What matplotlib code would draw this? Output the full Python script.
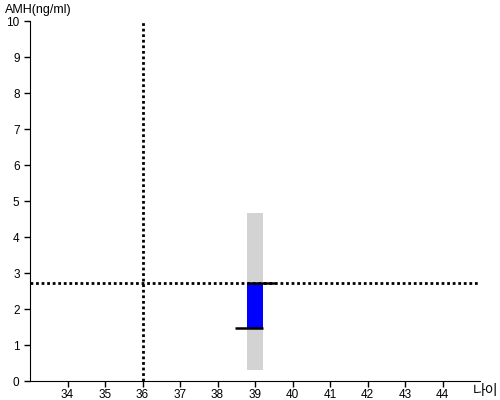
import matplotlib
matplotlib.use("Agg")
import matplotlib.pyplot as plt

plt.rcParams['font.family'] = ['Liberation Sans', 'Noto Sans CJK KR', 'DejaVu Sans']

# data
age = 39
ref_age = 36
ref_amh = 2.72
range_low, range_high = 0.3, 4.68
measured_amh = 1.47
x_ticks = list(range(34, 45))
y_ticks = list(range(0, 11))

fig = plt.figure(figsize=(5, 4), dpi=100)
ax = fig.add_axes([0.06, 0.0475, 0.9, 0.9])

ax.set_xlim(33, 45)
ax.set_ylim(0, 10)

# normal range
ax.bar(age, range_high - range_low, bottom=range_low, width=0.43,
       color='#d3d3d3', zorder=1)
# gap between measured and reference
ax.bar(age, ref_amh - measured_amh, bottom=measured_amh, width=0.43,
       color='#0000ff', zorder=2)
ax.hlines(ref_amh, age - 0.215, age + 0.53, color='black', lw=1.8, zorder=3)
ax.hlines(measured_amh, age - 0.53, age + 0.215, color='black', lw=1.8, zorder=3)

ax.axvline(ref_age, color='black', ls=(0, (1, 1)), lw=2, zorder=2)
ax.axhline(ref_amh, color='black', ls=(0, (1, 1)), lw=2, zorder=2)

ax.set_xticks(x_ticks)
ax.set_yticks(y_ticks)
ax.tick_params(labelsize=8.5, length=4, width=1)
ax.tick_params(axis='x', pad=1.5)
for s in ['top', 'right']:
    ax.spines[s].set_visible(False)

fig.text(0.01, 0.975, 'AMH(ng/ml)', fontsize=9, va='center', ha='left')
fig.text(0.946, 0.022, '나이', fontsize=10, va='center', ha='left')

fig.savefig('out.png', dpi=100)
